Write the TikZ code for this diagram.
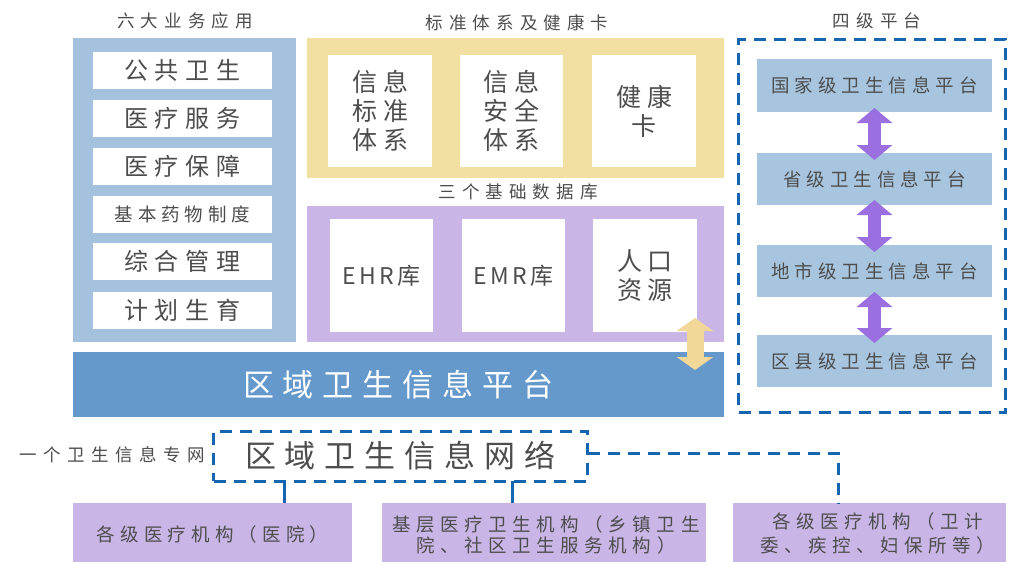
\documentclass[tikz,border=0pt]{standalone}
\usepackage{fontspec}
\setmainfont{Noto Sans CJK SC}
\usetikzlibrary{arrows.meta,calc}
\definecolor{lblue}{HTML}{A4C2DD}
\definecolor{pblue}{HTML}{A8C5DF}
\definecolor{barblue}{HTML}{6699CB}
\definecolor{yel}{HTML}{F2DFA2}
\definecolor{pur}{HTML}{C9B6E6}
\definecolor{dashblue}{HTML}{1565B0}
\definecolor{txt}{HTML}{4D4D4D}
\definecolor{parr}{HTML}{9B6FDF}
\definecolor{yarr}{HTML}{F2D898}
\newcommand\LS[2]{{\addfontfeature{LetterSpace=#1}#2}}
\begin{document}
\begin{tikzpicture}[x=1pt,y=-1pt,
  blk/.style={inner sep=0pt,outer sep=0pt,draw=none},
  wbox/.style={blk,fill=white,text=txt,align=center},
  ttl/.style={text=txt,font=\fontsize{17.5pt}{20pt}\selectfont},
  bigtxt/.style={font=\fontsize{24pt}{28pt}\selectfont},
  midtxt/.style={font=\fontsize{18.5pt}{21pt}\selectfont},
  coltxt/.style={font=\fontsize{25pt}{29pt}\selectfont},
  dashbox/.style={draw=dashblue,line width=3pt,dash pattern=on 12pt off 8pt},
  dashline/.style={draw=dashblue,line width=3pt,dash pattern=on 12pt off 8pt},
  solidline/.style={draw=dashblue,line width=3pt},
  parrow/.style={draw=parr,line width=13pt,{Triangle[length=15pt,width=35pt]}-{Triangle[length=15pt,width=35pt]}},
  yarrow/.style={draw=yarr,line width=17pt,{Triangle[length=13pt,width=36pt]}-{Triangle[length=13pt,width=36pt]}}
]
\useasboundingbox (0,0) rectangle (1010,562);
\fill[white] (0,0) rectangle (1010,562);

% ---- left panel: six applications
\node[ttl] (t1) at (185,21) {\LS{35}{六大业务应用}};
\node[blk,fill=lblue,minimum width=223pt,minimum height=304pt] (lp) at (184.5,190) {};
\node[wbox,bigtxt,minimum width=179pt,minimum height=37pt] (a1) at (182.5,70.5) {\LS{29}{公共卫生}};
\node[wbox,bigtxt,minimum width=179pt,minimum height=37pt] (a2) at (182.5,118.5) {\LS{29}{医疗服务}};
\node[wbox,bigtxt,minimum width=179pt,minimum height=37pt] (a3) at (182.5,166.5) {\LS{29}{医疗保障}};
\node[wbox,midtxt,minimum width=179pt,minimum height=37pt] (a4) at (182.5,214.5) {\LS{26}{基本药物制度}};
\node[wbox,bigtxt,minimum width=179pt,minimum height=37pt] (a5) at (182.5,261.5) {\LS{29}{综合管理}};
\node[wbox,bigtxt,minimum width=179pt,minimum height=37pt] (a6) at (182.5,310) {\LS{29}{计划生育}};

% ---- yellow panel: standards and health card
\node[ttl] (t2) at (517,23) {\LS{35}{标准体系及健康卡}};
\node[blk,fill=yel,minimum width=417pt,minimum height=140pt] (yp) at (515.5,108) {};
\node[wbox,coltxt,minimum width=104pt,minimum height=112pt] (s1) at (380,111) {\LS{24}{信息}\\\LS{24}{标准}\\\LS{24}{体系}};
\node[wbox,coltxt,minimum width=103pt,minimum height=112pt] (s2) at (511.5,111) {\LS{24}{信息}\\\LS{24}{安全}\\\LS{24}{体系}};
\node[wbox,coltxt,minimum width=104pt,minimum height=112pt] (s3) at (644,111) {\LS{24}{健康}\\\LS{24}{卡}};

% ---- purple panel: three databases
\node[ttl] (t3) at (518,192) {\LS{35}{三个基础数据库}};
\node[blk,fill=pur,minimum width=417pt,minimum height=136pt] (pp) at (515.5,274) {};
\node[wbox,font=\fontsize{23pt}{27pt}\selectfont,minimum width=103pt,minimum height=113pt] (d1) at (381.5,275.5) {\LS{14}{EHR库}};
\node[wbox,font=\fontsize{23pt}{27pt}\selectfont,minimum width=103pt,minimum height=113pt] (d2) at (513.5,275.5) {\LS{14}{EMR库}};
\node[wbox,coltxt,minimum width=104pt,minimum height=113pt] (d3) at (645,275.5) {\LS{22}{人口}\\\LS{22}{资源}};

% ---- regional platform bar
\node[blk,fill=barblue,minimum width=651pt,minimum height=65pt,text=white,font=\fontsize{31pt}{35pt}\selectfont] (bar) at (398.5,384.5) {\LS{29}{区域卫生信息平台}};
\coordinate (ya) at (695,318);
\coordinate (yb) at (695,370);
\draw[yarrow] (ya) -- (yb);

% ---- four-level platforms
\node[ttl] (t4) at (877,21) {\LS{35}{四级平台}};
\node[blk,dashbox,minimum width=267pt,minimum height=373pt] (fp) at (872,226) {};
\node[blk,fill=pblue,text=txt,midtxt,minimum width=235pt,minimum height=53pt] (p1) at (874.5,85.5) {\LS{27}{国家级卫生信息平台}};
\node[blk,fill=pblue,text=txt,midtxt,minimum width=235pt,minimum height=52pt] (p2) at (874.5,179) {\LS{27}{省级卫生信息平台}};
\node[blk,fill=pblue,text=txt,midtxt,minimum width=235pt,minimum height=52pt] (p3) at (874.5,271) {\LS{27}{地市级卫生信息平台}};
\node[blk,fill=pblue,text=txt,midtxt,minimum width=235pt,minimum height=52pt] (p4) at (874.5,361) {\LS{27}{区县级卫生信息平台}};
\draw[parrow] ([yshift=4pt]p1.south) -- ([yshift=-7pt]p2.north);
\draw[parrow] ([yshift=5pt]p2.south) -- ([yshift=-7pt]p3.north);
\draw[parrow] ([yshift=5pt]p3.south) -- ([yshift=-8pt]p4.north);

% ---- network
\node[blk,dashbox,minimum width=374pt,minimum height=50pt,text=txt,font=\fontsize{31pt}{35pt}\selectfont] (net) at (400.5,456) {\LS{29}{区域卫生信息网络}};
\node[blk,text=txt,font=\fontsize{17.5pt}{20pt}\selectfont,anchor=east] (nl) at (205,455) {\LS{37}{一个卫生信息专网}};

% ---- bottom institutions
\node[blk,fill=pur,minimum width=279pt,minimum height=63pt,text=txt,midtxt] (b1) at (212.5,534.5) {\LS{28}{各级医疗机构（医院）}};
\node[blk,fill=pur,minimum width=324pt,minimum height=63pt] (b2) at (544,534.5) {};
\node[text=txt,midtxt,align=center,inner sep=0pt] (b2t) at (546,535) {\LS{30}{基层医疗卫生机构（乡镇卫生}\\[0pt]\LS{30}{院、社区卫生服务机构）}};
\node[blk,fill=pur,minimum width=273pt,minimum height=63pt] (b3) at (869.5,534.5) {};
\node[text=txt,midtxt,align=center,inner sep=0pt] (b3t) at (878,533) {\LS{30}{各级医疗机构（卫计}\\[3pt]\LS{30}{委、疾控、妇保所等）}};

\coordinate (c1) at (284,0);
\coordinate (c2) at (512,0);
\draw[solidline] (c1 |- net.south) -- (c1 |- b1.north);
\draw[solidline] (c2 |- net.south) -- (c2 |- b2.north);
\coordinate (c3) at (838,0);
\draw[dashline] ([yshift=3pt]net.east) -| (c3 |- b3.north);
\end{tikzpicture}
\end{document}
